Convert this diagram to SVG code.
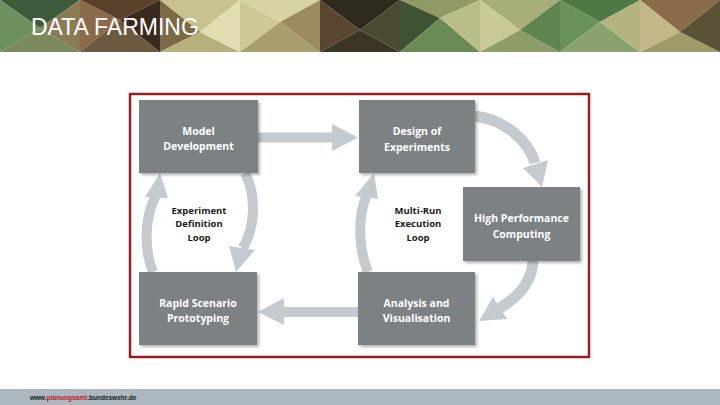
<svg xmlns="http://www.w3.org/2000/svg" width="720" height="405" viewBox="0 0 720 405">
<defs>
<style>
.box{fill:#7b8184;filter:url(#sh)}
.bt{font-family:"Open Sans","Liberation Sans",sans-serif;font-weight:bold;font-size:10.5px;fill:#ffffff;text-anchor:middle}
.lt{font-family:"Open Sans","Liberation Sans",sans-serif;font-weight:bold;font-size:9.5px;fill:#1a1a1a;text-anchor:middle}
.sh{fill:none;stroke:#c3cad0;stroke-width:10}
.hd{fill:#c3cad0}
</style>
<filter id="sh" x="-10%" y="-10%" width="125%" height="130%">
<feDropShadow dx="2" dy="2" stdDeviation="1.5" flood-color="#000" flood-opacity="0.3"/>
</filter>
</defs>
<rect width="720" height="405" fill="#ffffff"/>
<g id="header">
<polygon points="0,0 80,0 40,28" fill="#3f5a3a"/>
<polygon points="0,0 40,28 0,52" fill="#6e9060"/>
<polygon points="0,52 80,52 40,28" fill="#7a8a5c"/>
<polygon points="80,0 80,52 40,28" fill="#8c7a55"/>
<polygon points="80,0 160,0 120,20" fill="#5a3f2a"/>
<polygon points="80,0 120,20 80,52" fill="#8a6a48"/>
<polygon points="80,52 160,52 120,20" fill="#6b5a40"/>
<polygon points="160,0 160,52 120,20" fill="#3a2a1d"/>
<polygon points="160,0 240,0 200,32" fill="#c9c28e"/>
<polygon points="160,0 200,32 160,52" fill="#7a6a45"/>
<polygon points="160,52 240,52 200,32" fill="#b8b07a"/>
<polygon points="240,0 240,52 200,32" fill="#e2ddb0"/>
<polygon points="240,0 320,0 280,22" fill="#d8d3a4"/>
<polygon points="240,0 280,22 240,52" fill="#cfc896"/>
<polygon points="240,52 320,52 280,22" fill="#a89e6c"/>
<polygon points="320,0 320,52 280,22" fill="#9c8a60"/>
<polygon points="320,0 400,0 360,30" fill="#2e2b1c"/>
<polygon points="320,0 360,30 320,52" fill="#5a4530"/>
<polygon points="320,52 400,52 360,30" fill="#3a3524"/>
<polygon points="400,0 400,52 360,30" fill="#4a4a32"/>
<polygon points="400,0 480,0 440,18" fill="#8f9a66"/>
<polygon points="400,0 440,18 400,52" fill="#3f5334"/>
<polygon points="400,52 480,52 440,18" fill="#6b8a55"/>
<polygon points="480,0 480,52 440,18" fill="#b9bd88"/>
<polygon points="480,0 560,0 520,30" fill="#a7ae78"/>
<polygon points="480,0 520,30 480,52" fill="#c8c996"/>
<polygon points="480,52 560,52 520,30" fill="#8e9c68"/>
<polygon points="560,0 560,52 520,30" fill="#5e8450"/>
<polygon points="560,0 640,0 600,22" fill="#4f7846"/>
<polygon points="560,0 600,22 560,52" fill="#6a9258"/>
<polygon points="560,52 640,52 600,22" fill="#8aa26e"/>
<polygon points="640,0 640,52 600,22" fill="#b3b480"/>
<polygon points="640,0 720,0 680,32" fill="#8b6c4a"/>
<polygon points="640,0 680,32 640,52" fill="#c4b789"/>
<polygon points="640,52 720,52 680,32" fill="#a39a6a"/>
<polygon points="720,0 720,52 680,32" fill="#5a5236"/>
<text x="31" y="35" font-family="Liberation Sans, Arial, sans-serif" font-size="23" fill="#ffffff">DATA FARMING</text>
</g>
<g id="footer">
<rect x="0" y="389" width="720" height="16" fill="#adb7bf"/>
<text x="30" y="400" font-family="Liberation Sans, Arial, sans-serif" font-size="6.5" font-weight="bold" fill="#1a1a1a">www.<tspan fill="#c0182a">planungsamt</tspan>.bundeswehr.de</text>
</g>
<rect id="frame" x="130" y="94" width="459" height="263" fill="none" stroke="#9a1c20" stroke-width="2.5"/>
<g id="connectors">
<line class="sh" x1="258" y1="137.5" x2="334" y2="137.5"/>
<polygon class="hd" points="332,124 358,137.5 332,151"/>
<line class="sh" x1="358" y1="312" x2="282" y2="312"/>
<polygon class="hd" points="284,298 258,312 284,325"/>
<path class="sh" d="M153 272 C144 250 144 218 156 195"/>
<polygon class="hd" points="160,173 145,197 168,198"/>
<path class="sh" d="M245 173 C256 195 256 225 243 248"/>
<polygon class="hd" points="236,272 229,246 255,250"/>
<path class="sh" d="M368 272 C359 250 357 220 366 197"/>
<polygon class="hd" points="374,173 355,196 378,199"/>
<path class="sh" style="stroke-width:11" d="M475 116 C505 120 528 140 535 163"/>
<polygon class="hd" points="542,187 523,168 548,160"/>
<path class="sh" style="stroke-width:11" d="M533 261 C532 280 520 296 500 308"/>
<polygon class="hd" points="479,321 493,297 507,319"/>
</g>
<g id="model-development">
<rect class="box" x="139" y="100" width="119" height="73"/>
<text class="bt" x="198.5" y="134.5">Model</text>
<text class="bt" x="198.5" y="150">Development</text>
</g>
<g id="design-of-experiments">
<rect class="box" x="359" y="100" width="116" height="73"/>
<text class="bt" x="417" y="135">Design of</text>
<text class="bt" x="417" y="150.5">Experiments</text>
</g>
<g id="high-performance-computing">
<rect class="box" x="463" y="187" width="117" height="74"/>
<text class="bt" x="521.5" y="222">High Performance</text>
<text class="bt" x="521.5" y="238">Computing</text>
</g>
<g id="rapid-scenario-prototyping">
<rect class="box" x="139" y="272" width="118" height="73"/>
<text class="bt" x="198" y="306.5">Rapid Scenario</text>
<text class="bt" x="198" y="322">Prototyping</text>
</g>
<g id="analysis-and-visualisation">
<rect class="box" x="358" y="272" width="117" height="73"/>
<text class="bt" x="416.5" y="306.5">Analysis and</text>
<text class="bt" x="416.5" y="322">Visualisation</text>
</g>
<g id="experiment-definition-loop">
<text class="lt" x="199" y="213.5">Experiment</text>
<text class="lt" x="199" y="227">Definition</text>
<text class="lt" x="199" y="240.5">Loop</text>
</g>
<g id="multi-run-execution-loop">
<text class="lt" x="418" y="213.5">Multi-Run</text>
<text class="lt" x="418" y="227">Execution</text>
<text class="lt" x="418" y="240.5">Loop</text>
</g>
</svg>
